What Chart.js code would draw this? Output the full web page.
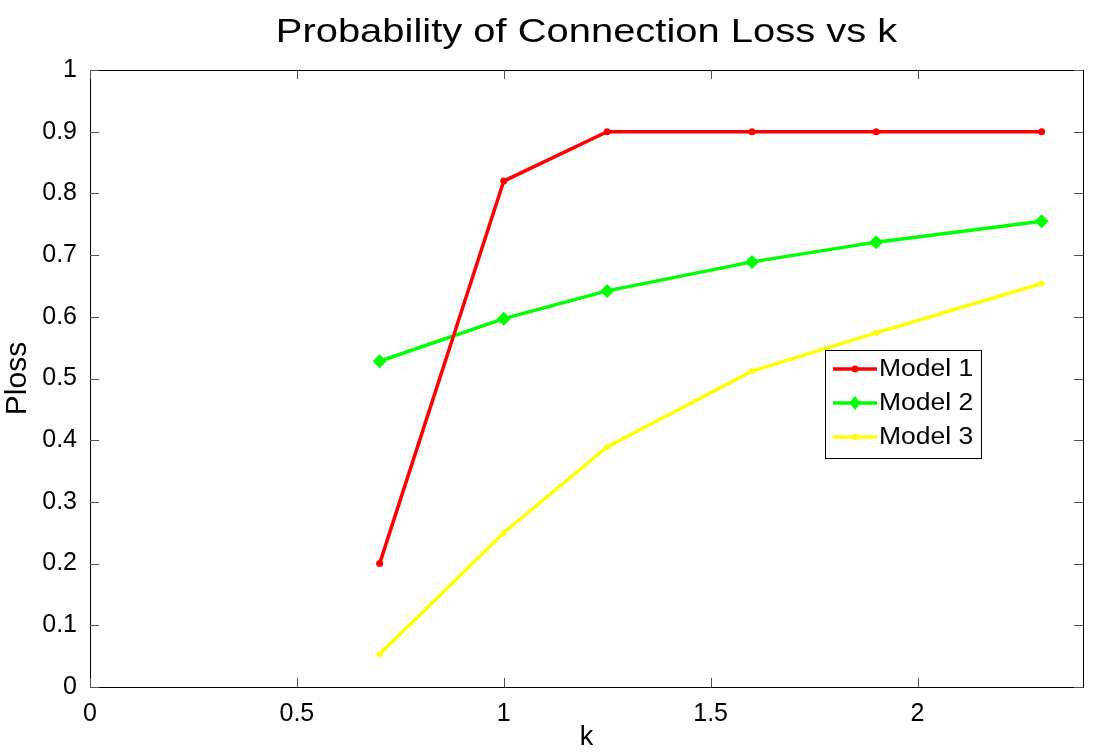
<!DOCTYPE html>
<html>
<head>
<meta charset="utf-8">
<script src="https://cdn.jsdelivr.net/npm/chart.js@4/dist/chart.umd.min.js"></script>
<style>
  html, body { margin: 0; padding: 0; background: #fff; }
  canvas { display: block; }
</style>
</head>
<body>
<canvas id="c" width="1096" height="754"></canvas>
<script>
// data
const kValues = [0.7, 1.0, 1.25, 1.6, 1.9, 2.3];
const model1 = [0.2, 0.82, 0.9, 0.9, 0.9, 0.9];
const model2 = [0.528, 0.597, 0.642, 0.689, 0.721, 0.755];
const model3 = [0.053, 0.25, 0.389, 0.512, 0.574, 0.654];
const seriesNames = ['Model 1', 'Model 2', 'Model 3'];
const titleText = 'Probability of Connection Loss vs k';

const FONT = 'Liberation Sans, Arial, sans-serif';

function pts(ys) {
  return kValues.map((k, i) => ({ x: k, y: ys[i] }));
}

// title, box frame, inward ticks on all sides, and the inset legend
const boxPlugin = {
  id: 'box',
  afterDraw(chart) {
    const ctx = chart.ctx;
    const a = chart.chartArea;
    const xs = chart.scales.x, ys = chart.scales.y;
    ctx.save();

    // title (a bit wide, like the original)
    ctx.save();
    ctx.font = '33px ' + FONT;
    ctx.fillStyle = '#000';
    ctx.textAlign = 'center';
    ctx.textBaseline = 'alphabetic';
    ctx.translate((a.left + a.right) / 2, 42);
    ctx.scale(1.21, 1);
    ctx.fillText(titleText, 0, 0);
    ctx.restore();

    ctx.strokeStyle = '#000';
    ctx.lineWidth = 1;
    ctx.strokeRect(a.left + 0.5, a.top + 0.5, a.right - a.left, a.bottom - a.top);
    ctx.strokeStyle = '#555';
    const tl = 9;
    xs.ticks.forEach(t => {
      const px = Math.round(xs.getPixelForValue(t.value)) + 0.5;
      ctx.beginPath();
      ctx.moveTo(px, a.bottom); ctx.lineTo(px, a.bottom - tl);
      ctx.moveTo(px, a.top); ctx.lineTo(px, a.top + tl);
      ctx.stroke();
    });
    ys.ticks.forEach(t => {
      const py = Math.round(ys.getPixelForValue(t.value)) + 0.5;
      ctx.beginPath();
      ctx.moveTo(a.left, py); ctx.lineTo(a.left + tl, py);
      ctx.moveTo(a.right, py); ctx.lineTo(a.right - tl, py);
      ctx.stroke();
    });

    // legend
    const lx = 825, ly = 350, lw = 156, lh = 108;
    ctx.fillStyle = '#fff';
    ctx.fillRect(lx, ly, lw, lh);
    ctx.strokeStyle = '#000';
    ctx.lineWidth = 1;
    ctx.strokeRect(lx + 0.5, ly + 0.5, lw, lh);
    ctx.font = '23px ' + FONT;
    ctx.textBaseline = 'middle';
    chart.data.datasets.forEach((ds, i) => {
      const cy = ly + 19 + i * 34;
      ctx.strokeStyle = ds.borderColor;
      ctx.lineWidth = 3.5;
      ctx.beginPath();
      ctx.moveTo(lx + 8, cy); ctx.lineTo(lx + 52, cy);
      ctx.stroke();
      ctx.fillStyle = ds.borderColor;
      const r = ds.pointRadius;
      const mx = lx + 30;
      ctx.beginPath();
      if (ds.pointStyle === 'rectRot') {
        ctx.moveTo(mx, cy - r); ctx.lineTo(mx + r * 0.8, cy);
        ctx.lineTo(mx, cy + r); ctx.lineTo(mx - r * 0.8, cy);
        ctx.closePath();
      } else {
        ctx.arc(mx, cy, r, 0, Math.PI * 2);
      }
      ctx.fill();
      ctx.fillStyle = '#000';
      ctx.save();
      ctx.translate(lx + 54, cy + 1);
      ctx.scale(1.15, 1);
      ctx.fillText(ds.label, 0, 0);
      ctx.restore();
    });
    ctx.restore();
  }
};

new Chart(document.getElementById('c'), {
  type: 'line',
  data: {
    datasets: [
      { label: seriesNames[0], data: pts(model1), borderColor: '#ff0000', backgroundColor: '#ff0000',
        borderWidth: 3.5, pointRadius: 3.5, pointBorderWidth: 0, pointStyle: 'circle' },
      { label: seriesNames[1], data: pts(model2), borderColor: '#00ff00', backgroundColor: '#00ff00',
        borderWidth: 3.5, pointRadius: 7, pointBorderWidth: 0, pointStyle: 'rectRot' },
      { label: seriesNames[2], data: pts(model3), borderColor: '#ffff00', backgroundColor: '#ffff00',
        borderWidth: 3.5, pointRadius: 3, pointBorderWidth: 0, pointStyle: 'circle' }
    ]
  },
  options: {
    responsive: false,
    animation: false,
    layout: { padding: { left: 0, right: 13, top: 70, bottom: 0 } },
    plugins: {
      legend: { display: false },
      tooltip: { enabled: false },
      title: { display: false }
    },
    scales: {
      x: {
        type: 'linear',
        min: 0, max: 2.4,
        border: { display: false },
        grid: { display: false },
        afterBuildTicks(s) {
          s.ticks = s.ticks.filter(t => Math.abs(t.value * 2 - Math.round(t.value * 2)) < 1e-9);
        },
        afterFit(s) { s.height = 67; },
        ticks: { stepSize: 0.5, color: '#000', padding: 4, maxRotation: 0,
                 callback: v => String(+v.toFixed(2)),
                 font: { family: FONT, size: 25 } },
        title: { display: true, text: 'k', color: '#000', padding: 0,
                 font: { family: FONT, size: 27 } }
      },
      y: {
        min: 0, max: 1,
        border: { display: false },
        grid: { display: false },
        afterFit(s) { s.width = 90; },
        ticks: { stepSize: 0.1, color: '#000', padding: 5,
                 callback: v => String(+v.toFixed(2)),
                 font: { family: FONT, size: 25 } },
        title: { display: true, text: 'Ploss', color: '#000', padding: 0,
                 font: { family: FONT, size: 30 } }
      }
    }
  },
  plugins: [boxPlugin]
});
</script>
</body>
</html>
